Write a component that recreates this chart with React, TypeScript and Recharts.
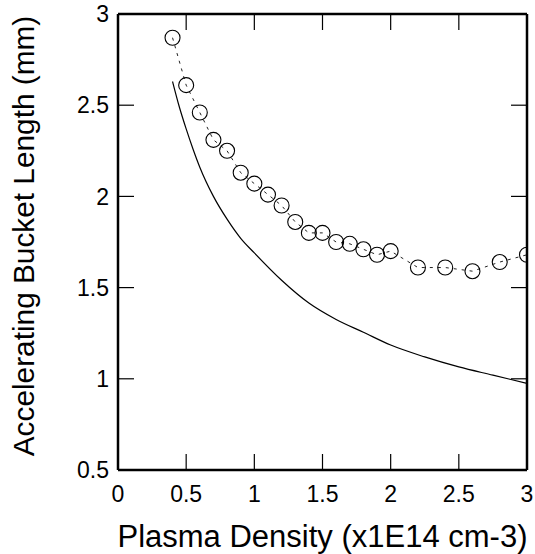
import React from 'react';
import { ComposedChart, Line, XAxis, YAxis } from 'recharts';

const xTicks = [0, 0.5, 1, 1.5, 2, 2.5, 3];
const yTicks = [0.5, 1, 1.5, 2, 2.5, 3];

const measuredDensity = [0.4, 0.5, 0.6, 0.7, 0.8, 0.9, 1.0, 1.1, 1.2, 1.3, 1.4, 1.5, 1.6, 1.7, 1.8, 1.9, 2.0, 2.2, 2.4, 2.6, 2.8, 3.0];
const measuredLength = [2.87, 2.61, 2.46, 2.31, 2.25, 2.13, 2.07, 2.01, 1.95, 1.86, 1.8, 1.8, 1.75, 1.74, 1.71, 1.68, 1.7, 1.61, 1.61, 1.59, 1.64, 1.68];

const theoryDensity = [0.4, 0.45, 0.5, 0.55, 0.6, 0.7, 0.8, 0.9, 1.0, 1.2, 1.4, 1.6, 1.8, 2.0, 2.25, 2.5, 2.75, 3.0];
const theoryLength = [2.63, 2.49, 2.37, 2.26, 2.16, 2.0, 1.875, 1.77, 1.69, 1.54, 1.415, 1.325, 1.255, 1.185, 1.12, 1.065, 1.02, 0.975];

const xLabelText = 'Plasma Density (x1E14 cm-3)';
const yLabelText = 'Accelerating Bucket Length (mm)';

const X_MIN = 0;
const X_MAX = 3;
const Y_MIN = 0.5;
const Y_MAX = 3;

const CHART_W = 535;
const CHART_H = 554;
const Y_AXIS_W = 118;
const RIGHT_W = 8;
const TOP_H = 14;
const X_AXIS_H = 84;
const PLOT_W = CHART_W - Y_AXIS_W - RIGHT_W;
const PLOT_H = CHART_H - TOP_H - X_AXIS_H;
const TICK_PX = 16;
// inward tick length expressed in axis units
const TICK_DX = (TICK_PX * (X_MAX - X_MIN)) / PLOT_W;
const TICK_DY = (TICK_PX * (Y_MAX - Y_MIN)) / PLOT_H;

const measured = measuredDensity.map((x, i) => ({ x, y: measuredLength[i] }));
const theory = theoryDensity.map((x, i) => ({ x, y: theoryLength[i] }));

const tickSegments = [
  ...xTicks.map((x) => [{ x, y: Y_MIN }, { x, y: Y_MIN + TICK_DY }]),
  ...xTicks.map((x) => [{ x, y: Y_MAX }, { x, y: Y_MAX - TICK_DY }]),
  ...yTicks.map((y) => [{ x: X_MIN, y }, { x: X_MIN + TICK_DX, y }]),
  ...yTicks.map((y) => [{ x: X_MAX, y }, { x: X_MAX - TICK_DX, y }]),
];

const FONT = '"Liberation Sans", Arial, Helvetica, sans-serif';

const XLabel = (props: any) => {
  const vb = props.viewBox || {};
  return (
    <text
      x={vb.x + vb.width / 2}
      y={vb.y + 77}
      textAnchor="middle"
      fontFamily={FONT}
      fontSize={31}
      fill="#000"
    >
      {xLabelText}
    </text>
  );
};

const YLabel = (props: any) => {
  const vb = props.viewBox || {};
  const cx = vb.x + 23;
  const cy = vb.y + vb.height / 2 - 6;
  return (
    <text
      x={cx}
      y={cy}
      transform={`rotate(-90, ${cx}, ${cy})`}
      textAnchor="middle"
      dominantBaseline="central"
      fontFamily={FONT}
      fontSize={29.8}
      fill="#000"
    >
      {yLabelText}
    </text>
  );
};

const tickStyle = { fontSize: 23, fill: '#000', fontFamily: FONT };
const frameLine = { stroke: '#000', strokeWidth: 2.5 };

export default function App() {
  return (
    <div style={{ position: 'absolute', left: 0, top: 0, background: '#fff' }}>
      <ComposedChart
        width={CHART_W}
        height={CHART_H}
        margin={{ top: 0, right: 0, bottom: 0, left: 0 }}
      >
        <XAxis
          xAxisId="main"
          type="number"
          dataKey="x"
          domain={[X_MIN, X_MAX]}
          ticks={xTicks}
          interval={0}
          allowDataOverflow
          orientation="bottom"
          height={X_AXIS_H}
          tickLine={false}
          tickSize={8}
          tickMargin={8}
          tick={tickStyle}
          axisLine={frameLine}
          label={<XLabel />}
        />
        <XAxis
          xAxisId="top"
          type="number"
          dataKey="x"
          domain={[X_MIN, X_MAX]}
          allowDataOverflow
          orientation="top"
          height={TOP_H}
          tickLine={false}
          tick={false}
          axisLine={frameLine}
        />
        <YAxis
          yAxisId="main"
          type="number"
          domain={[Y_MIN, Y_MAX]}
          ticks={yTicks}
          interval={0}
          allowDataOverflow
          orientation="left"
          width={Y_AXIS_W}
          tickLine={false}
          tickSize={4}
          tickMargin={5}
          tick={tickStyle}
          axisLine={frameLine}
          label={<YLabel />}
        />
        <YAxis
          yAxisId="right"
          type="number"
          domain={[Y_MIN, Y_MAX]}
          allowDataOverflow
          orientation="right"
          width={RIGHT_W}
          tickLine={false}
          tick={false}
          axisLine={frameLine}
        />
        <Line
          xAxisId="top"
          yAxisId="right"
          data={measured}
          dataKey="y"
          stroke="none"
          dot={false}
          activeDot={false}
          legendType="none"
          isAnimationActive={false}
        />
        {tickSegments.map((seg, i) => (
          <Line
            key={`tick-${i}`}
            xAxisId="main"
            yAxisId="main"
            data={seg}
            dataKey="y"
            type="linear"
            stroke="#000"
            strokeWidth={1.2}
            dot={false}
            activeDot={false}
            legendType="none"
            isAnimationActive={false}
          />
        ))}
        <Line
          xAxisId="main"
          yAxisId="main"
          data={theory}
          dataKey="y"
          type="monotone"
          stroke="#000"
          strokeWidth={1.2}
          dot={false}
          activeDot={false}
          isAnimationActive={false}
        />
        <Line
          xAxisId="main"
          yAxisId="main"
          data={measured}
          dataKey="y"
          type="linear"
          stroke="#222"
          strokeWidth={1}
          strokeDasharray="3 5"
          dot={{ r: 7.5, fill: 'none', stroke: '#000', strokeWidth: 1.1, strokeDasharray: 'none' }}
          activeDot={false}
          isAnimationActive={false}
        />
      </ComposedChart>
    </div>
  );
}
